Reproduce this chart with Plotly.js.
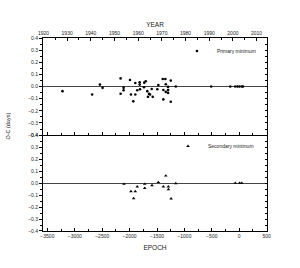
<!DOCTYPE html>
<html><head>
<script src="https://cdn.plot.ly/plotly-3.0.1.min.js"></script>
<style>body{margin:0;background:#fff}</style>
</head><body>
<div id="c" style="width:300px;height:268px"></div>
<script>
// Primary minimum: epoch and O-C (days)
const primEpoch = [-3225,-2683,-2542,-2493,-2164,-2164,-2109,-2109,-1993,-1975,-1933,-1896,-1896,-1860,-1816,-1816,-1810,-1737,-1732,-1706,-1677,-1664,-1646,-1627,-1596,-1578,-1494,-1475,-1395,-1347,-1384,-1384,-1340,-1340,-1298,-1298,-1298,-1249,-1249,-1157,-511,-163,-72,-30,7,51,69];
const primOC = [-0.038,-0.065,0.016,-0.011,0.067,-0.060,-0.011,-0.030,0.054,-0.065,-0.122,0.029,-0.065,-0.030,0.035,0.016,-0.022,-0.006,0.032,0.043,-0.038,-0.085,-0.060,-0.065,-0.020,-0.085,-0.022,0.013,0.062,0.062,-0.028,-0.106,0.019,-0.044,-0.003,-0.028,-0.052,0.049,-0.125,0.000,0.000,0.000,0.000,0.000,0.000,0.000,0.000];
// Secondary minimum
const secEpoch = [-2103,-1975,-1926,-1896,-1860,-1724,-1724,-1591,-1475,-1384,-1340,-1292,-1292,-1243,-1157,-72,7,46];
const secOC = [-0.008,-0.070,-0.128,-0.070,-0.030,-0.008,-0.042,-0.020,0.006,-0.030,0.061,-0.030,-0.053,-0.130,-0.003,0.000,0.000,0.000];
// Axis ranges / labels
const epochRange = [-3580, 507];
const yearRange = [1919.8, 2014.4];
const ocRange = [-0.4, 0.4];
const yTitle = 'O-C (days)';
const xTitle = 'EPOCH';
const topTitle = 'YEAR';
const primName = 'Primary minimum';
const secName = 'Secondary minimum';

const F = 'Liberation Sans, Arial, sans-serif';
const INK = '#222';
const tf = {family: F, size: 5, color: INK};
const split = 0.497;

const traces = [
  {x: primEpoch, y: primOC, xaxis: 'x2', yaxis: 'y2', type: 'scatter', mode: 'markers', name: primName,
   marker: {symbol: 'circle', size: 2.6, color: '#000'}, legend: 'legend'},
  {x: secEpoch, y: secOC, xaxis: 'x', yaxis: 'y', type: 'scatter', mode: 'markers', name: secName,
   marker: {symbol: 'triangle-up', size: 3.2, color: '#000'}, legend: 'legend2'},
  {x: [], y: [], xaxis: 'x3', yaxis: 'y2', type: 'scatter', showlegend: false},
  {x: [], y: [], xaxis: 'x2', yaxis: 'y3', type: 'scatter', showlegend: false},
  {x: [], y: [], xaxis: 'x', yaxis: 'y4', type: 'scatter', showlegend: false}
];

const xBase = {color: INK, range: epochRange, dtick: 500, tick0: 0, ticks: 'inside', ticklen: 3, tickcolor: '#000',
  minor: {dtick: 250, ticks: 'inside', ticklen: 2, tickcolor: '#000'},
  showline: true, linecolor: '#000', linewidth: 1, zeroline: false, showgrid: false, tickfont: tf};
const yBase = {color: INK, range: ocRange, dtick: 0.1, tick0: 0, tickformat: '.1f', ticks: 'outside', ticklen: 3, tickcolor: '#000',
  minor: {dtick: 0.05, ticks: 'outside', ticklen: 2, tickcolor: '#000'},
  showline: true, linecolor: '#000', linewidth: 1, mirror: true, showgrid: false,
  zeroline: true, zerolinecolor: '#444', zerolinewidth: 1, tickfont: tf};
const yRight = {color: INK, range: ocRange, dtick: 0.05, tick0: 0, ticks: 'inside', ticklen: 2.5, tickcolor: '#000',
  showticklabels: false, showline: false, showgrid: false, zeroline: false, side: 'right'};

const layout = {
  width: 300, height: 268,
  margin: {l: 43, r: 33, t: 38, b: 37},
  paper_bgcolor: '#fff', plot_bgcolor: '#fff',
  font: {family: F, size: 5, color: INK},
  xaxis: Object.assign({}, xBase, {anchor: 'y', domain: [0, 1],
    title: {text: xTitle, font: {family: F, size: 6.5, color: INK}, standoff: 7}}),
  yaxis: Object.assign({}, yBase, {anchor: 'x', domain: [0, split]}),
  xaxis2: Object.assign({}, xBase, {anchor: 'y2', domain: [0, 1], matches: 'x', showticklabels: false}),
  yaxis2: Object.assign({}, yBase, {anchor: 'x2', domain: [split, 1]}),
  xaxis3: {color: INK, overlaying: 'x2', side: 'top', anchor: 'y2', range: yearRange, dtick: 10, tick0: 1920,
    ticks: 'inside', ticklen: 3, tickcolor: '#000', minor: {dtick: 5, ticks: 'inside', ticklen: 2, tickcolor: '#000'},
    showline: true, linecolor: '#000', linewidth: 1, showgrid: false, zeroline: false, tickfont: tf,
    title: {text: topTitle, font: {family: F, size: 6.5, color: INK}, standoff: 1}},
  yaxis3: Object.assign({}, yRight, {overlaying: 'y2', anchor: 'x2'}),
  yaxis4: Object.assign({}, yRight, {overlaying: 'y', anchor: 'x'}),
  legend: {x: 0.598, xanchor: 'left', y: 0.933, yanchor: 'middle', bgcolor: 'rgba(0,0,0,0)',
    font: {family: F, size: 5, color: INK}, itemwidth: 30, tracegroupgap: 0},
  legend2: {x: 0.558, xanchor: 'left', y: 0.440, yanchor: 'middle', bgcolor: 'rgba(0,0,0,0)',
    font: {family: F, size: 5, color: INK}, itemwidth: 30, tracegroupgap: 0},
  showlegend: true,
  annotations: [{text: yTitle, xref: 'paper', yref: 'paper', x: -0.158, y: 0.544, textangle: -90,
    showarrow: false, xanchor: 'center', yanchor: 'middle', font: {family: F, size: 5.5, color: INK}}]
};

Plotly.newPlot('c', traces, layout, {displayModeBar: false, staticPlot: true});
</script>
</body></html>
